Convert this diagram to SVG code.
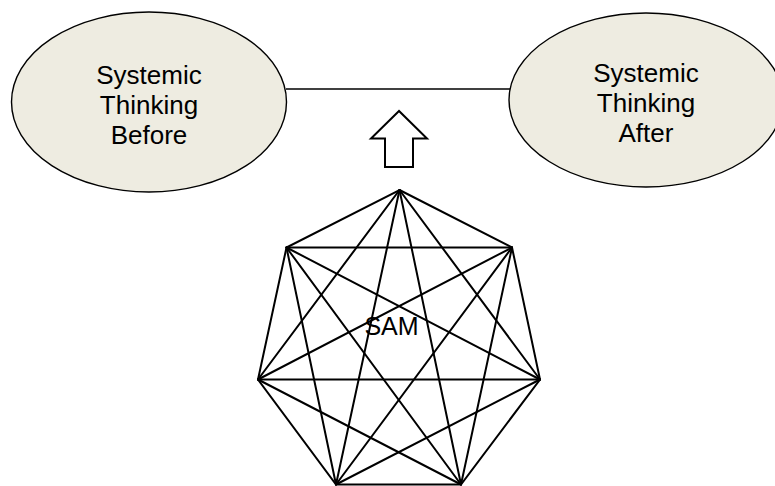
<svg xmlns="http://www.w3.org/2000/svg" width="775" height="486" viewBox="0 0 775 486">
<style>
.ell{fill:#EEECE1;stroke:#000;stroke-width:1.4}
.lbl{font-family:"Liberation Sans",Arial,sans-serif;font-size:26px;fill:#000;text-anchor:middle}
.ln{stroke:#000;stroke-width:2;fill:none;stroke-linecap:round}
</style>
<rect width="775" height="486" fill="#fff"/>
<g id="connectors">
<line x1="286" y1="89" x2="510" y2="89" stroke="#000" stroke-width="1.5"/>
<polygon points="399,111 371,138.5 385,138.5 385,167 413,167 413,138.5 427,138.5" fill="#fff" stroke="#000" stroke-width="2" stroke-linejoin="miter"/>
</g>
<g id="before">
<ellipse class="ell" cx="149" cy="102" rx="137.5" ry="90"/>
<text class="lbl" x="149" y="84">Systemic</text>
<text class="lbl" x="149" y="114">Thinking</text>
<text class="lbl" x="149" y="144">Before</text>
</g>
<g id="after">
<ellipse class="ell" cx="646" cy="100" rx="137" ry="87"/>
<text class="lbl" x="646" y="82">Systemic</text>
<text class="lbl" x="646" y="112">Thinking</text>
<text class="lbl" x="646" y="142">After</text>
</g>
<g id="sam">
<g class="ln">
<polygon points="399.5,190 512,247.5 540,379.5 461,484.5 336,484.5 258,379.5 286.5,247.5"/>
<line x1="399.5" y1="190" x2="540" y2="379.5"/>
<line x1="399.5" y1="190" x2="461" y2="484.5"/>
<line x1="399.5" y1="190" x2="336" y2="484.5"/>
<line x1="399.5" y1="190" x2="258" y2="379.5"/>
<line x1="512" y1="247.5" x2="461" y2="484.5"/>
<line x1="512" y1="247.5" x2="336" y2="484.5"/>
<line x1="512" y1="247.5" x2="258" y2="379.5"/>
<line x1="512" y1="247.5" x2="286.5" y2="247.5"/>
<line x1="540" y1="379.5" x2="336" y2="484.5"/>
<line x1="540" y1="379.5" x2="258" y2="379.5"/>
<line x1="540" y1="379.5" x2="286.5" y2="247.5"/>
<line x1="461" y1="484.5" x2="258" y2="379.5"/>
<line x1="461" y1="484.5" x2="286.5" y2="247.5"/>
<line x1="336" y1="484.5" x2="286.5" y2="247.5"/>
</g>
<text class="lbl" x="391.5" y="335" style="font-size:25px">SAM</text>
</g>
</svg>
